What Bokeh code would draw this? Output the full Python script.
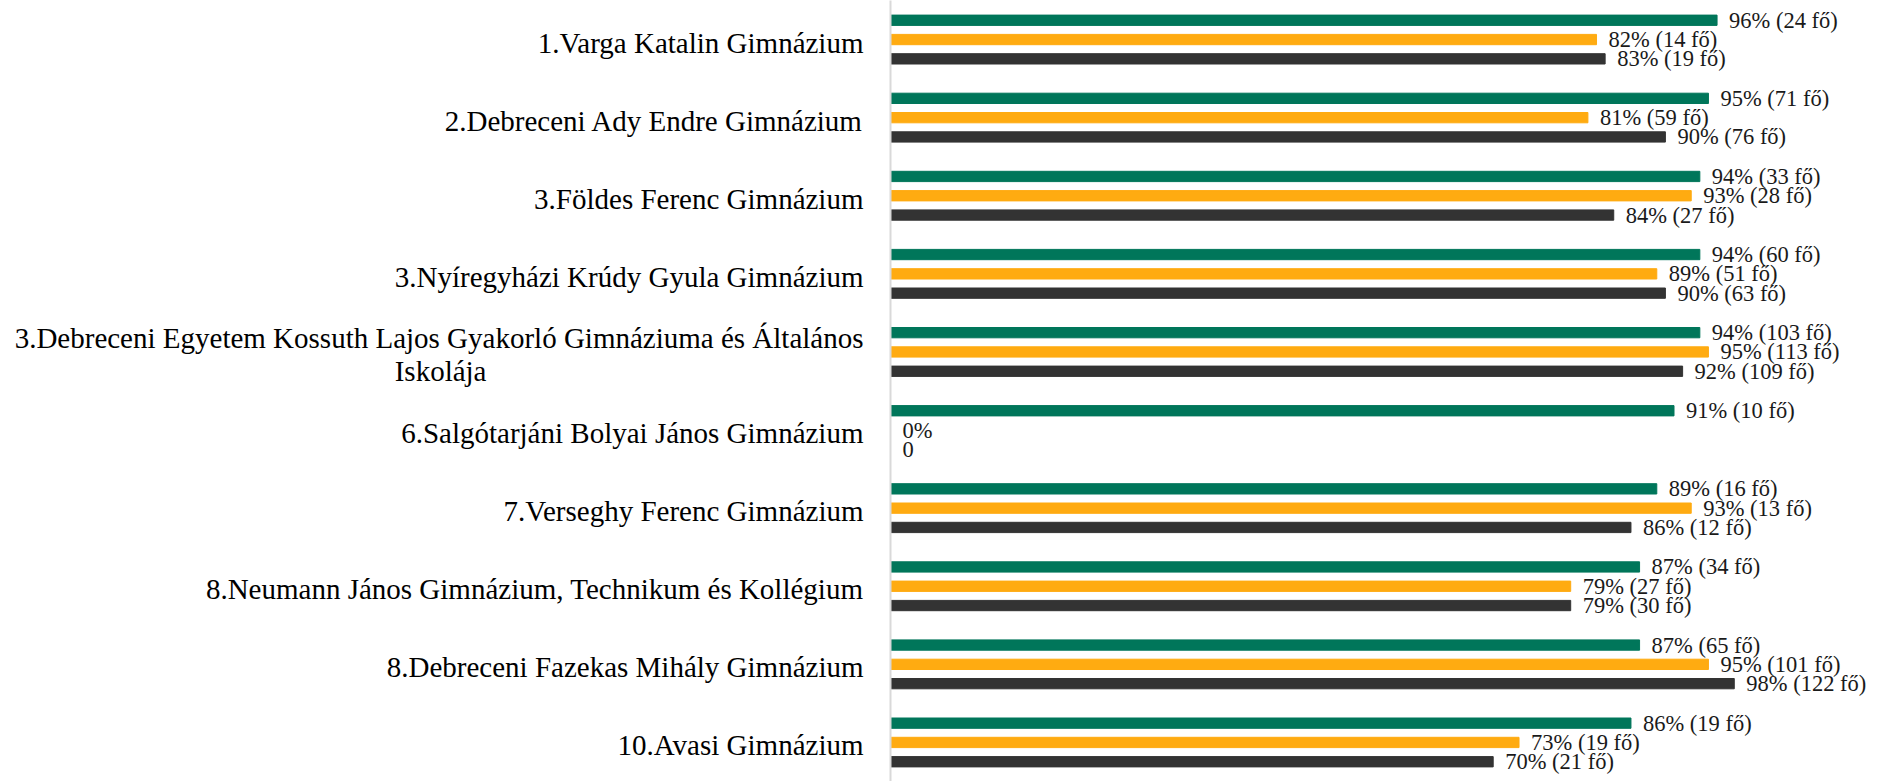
from bokeh.plotting import figure
from bokeh.models import ColumnDataSource, Range1d, FixedTicker, LabelSet
from bokeh.transform import dodge
from bokeh.core.properties import value
from bokeh.embed import file_html
from bokeh.resources import INLINE

schools = [
    "1.Varga Katalin Gimnázium",
    "2.Debreceni Ady Endre Gimnázium",
    "3.Földes Ferenc Gimnázium",
    "3.Nyíregyházi Krúdy Gyula Gimnázium",
    "3.Debreceni Egyetem Kossuth Lajos Gyakorló Gimnáziuma és Általános\nIskolája",
    "6.Salgótarjáni Bolyai János Gimnázium",
    "7.Verseghy Ferenc Gimnázium",
    "8.Neumann János Gimnázium, Technikum és Kollégium",
    "8.Debreceni Fazekas Mihály Gimnázium",
    "10.Avasi Gimnázium",
]
green_pct = [96, 95, 94, 94, 94, 91, 89, 87, 87, 86]
green_n = [24, 71, 33, 60, 103, 10, 16, 34, 65, 19]
orange_pct = [82, 81, 93, 89, 95, 0, 93, 79, 95, 73]
orange_n = [14, 59, 28, 51, 113, None, 13, 27, 101, 19]
dark_pct = [83, 90, 84, 90, 92, 0, 86, 79, 98, 70]
dark_n = [19, 76, 27, 63, 109, None, 12, 30, 122, 21]

GREEN = "#00765A"
ORANGE = "#FFAB11"
DARK = "#333333"
FONT = "Liberation Serif"

n = len(schools)
pos = [n - 1 - i for i in range(n)]


def lab(p, c, empty):
    return f"{p}% ({c} fő)" if c is not None else empty


src = ColumnDataSource(dict(
    pos=pos,
    g=green_pct, o=orange_pct, d=dark_pct,
    gl=[lab(p, c, "0%") for p, c in zip(green_pct, green_n)],
    ol=[lab(p, c, "0%") for p, c in zip(orange_pct, orange_n)],
    dl=[lab(p, c, "0") for p, c in zip(dark_pct, dark_n)],
))

W, H = 1885, 781
LEFT = 890
px_per_pct = 8.61
frame_w = W - LEFT
px_per_cat = H / n

p = figure(width=W, height=H, output_backend="svg", toolbar_location=None,
           x_range=Range1d(0, frame_w / px_per_pct),
           y_range=Range1d(-0.5, n - 0.5),
           x_axis_location=None, min_border_left=LEFT, min_border_right=0,
           min_border_top=0, min_border_bottom=0)
p.outline_line_color = None
p.xgrid.visible = False
p.ygrid.visible = False
p.background_fill_color = "white"
p.border_fill_color = "white"

off = 19.3 / px_per_cat
bh = 10.3 / px_per_cat
p.hbar(y=dodge("pos", off, range=p.y_range), left=0, right="g", height=bh,
       source=src, color=GREEN)
p.hbar(y=dodge("pos", 0, range=p.y_range), left=0, right="o", height=bh,
       source=src, color=ORANGE)
p.hbar(y=dodge("pos", -off, range=p.y_range), left=0, right="d", height=bh,
       source=src, color=DARK)

for col, lcol, o in (("g", "gl", off), ("o", "ol", 0), ("d", "dl", -off)):
    ls = LabelSet(x=col, y=dodge("pos", o, range=p.y_range), text=lcol, source=src,
                  x_offset=12, text_align="left", text_baseline="middle",
                  text_font=value(FONT), text_font_size=value("22.5px"),
                  text_color="#1a1a1a")
    p.add_layout(ls)

# wrapped label: second line is centred under the first (pad with no-break spaces)
def centred(s):
    if "\n" not in s:
        return s
    first, second = s.split("\n", 1)
    return first + "\n" + second + "\u00a0" * 52

shift = 3 / px_per_cat
tick_pos = [pp - shift for pp in pos]
ax = p.yaxis[0]
ax.ticker = FixedTicker(ticks=tick_pos)
ax.major_label_overrides = {tp: centred(s) for tp, s in zip(tick_pos, schools)}
ax.major_label_text_font = FONT
ax.major_label_text_font_size = "29px"
ax.major_label_text_color = "#000000"
ax.major_label_text_line_height = 1.03
ax.major_label_standoff = 27
ax.major_tick_line_color = None
ax.minor_tick_line_color = None
ax.major_tick_out = 0
ax.major_tick_in = 0
ax.axis_line_color = "#D9D9D9"
ax.axis_line_width = 2

open("out.html", "w").write(file_html(p, INLINE))
